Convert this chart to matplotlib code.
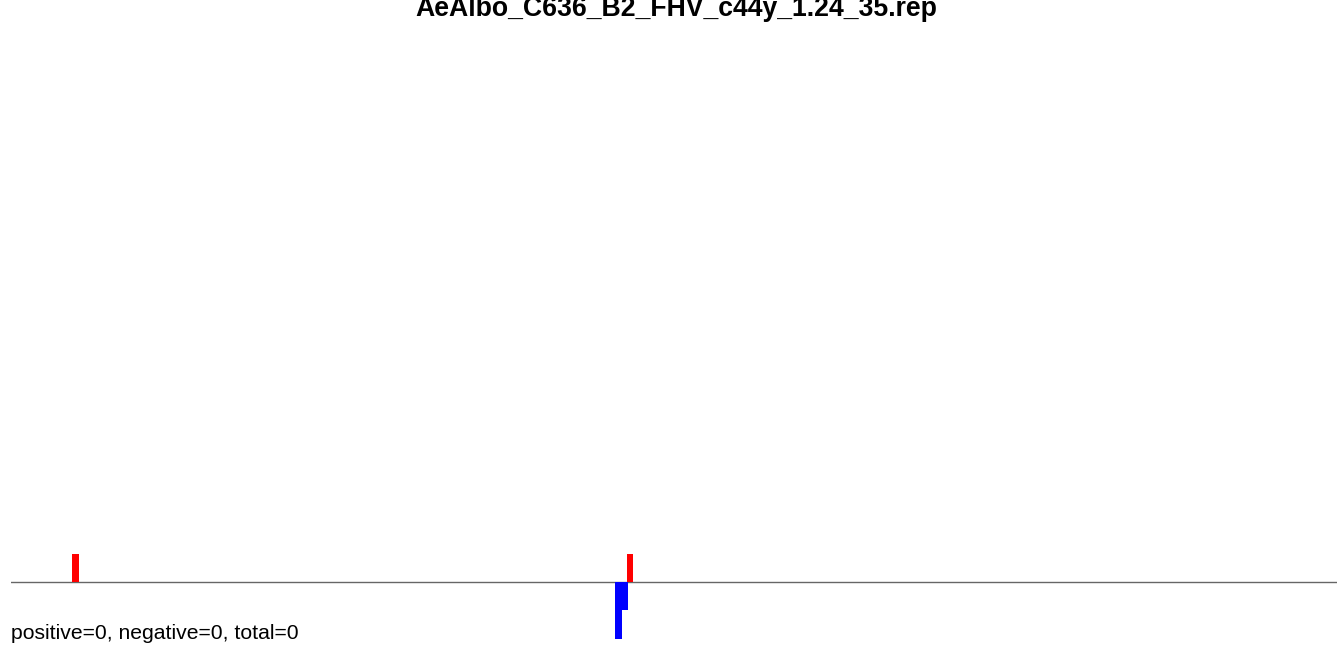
import numpy as np
import matplotlib.pyplot as plt

# read counts per position (sense above, antisense below)
genome_len = 3107
pos_sense = [143, 1443]
cnt_sense = [1, 1]
pos_anti = [1415, 1430]
cnt_anti = [2, 1]
bar_w = 15.5

title = "AeAlbo_C636_B2_FHV_c44y_1.24_35.rep"
summary = "positive=0, negative=0, total=0"

plt.rcParams['font.family'] = ['Liberation Sans', 'DejaVu Sans']

W, H = 1337, 645
fig = plt.figure(figsize=(W / 100, H / 100), dpi=100)
# axes: x from pixel 11 to 1337, y from pixel 40 to 645
ax = fig.add_axes([11 / W, 0, 1 - 11 / W, (H - 40) / H])

unit = 28.3
ax.bar(pos_sense, cnt_sense, width=bar_w, align='edge', color='red', linewidth=0)
ax.bar(pos_anti, [-c for c in cnt_anti], width=bar_w, align='edge', color='blue', linewidth=0)
ax.axhline(0, color='#666666', linewidth=1, zorder=0)

ax.set_xlim(0, genome_len)
ax.set_ylim(-(H - 582) / unit, (582 - 40) / unit)
ax.axis('off')

fig.text(676 / W, 1 - 16 / H, title, ha='center', va='baseline',
         fontsize=19.2, fontweight='bold')
fig.text(11 / W, 1 - 639 / H, summary, ha='left', va='baseline', fontsize=15.2)

fig.savefig('out.png', dpi=100)
